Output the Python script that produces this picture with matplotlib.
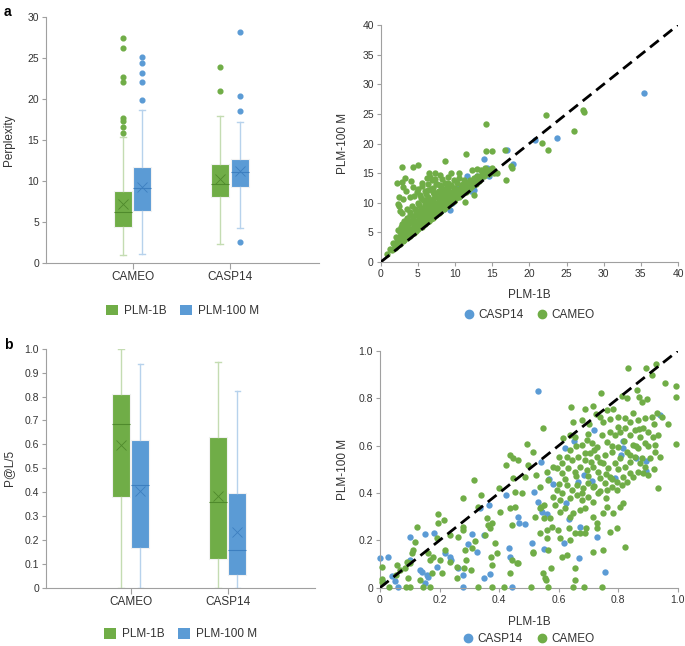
import numpy as np
import matplotlib
matplotlib.use('Agg')
import matplotlib.pyplot as plt
from matplotlib.patches import Patch
from matplotlib.lines import Line2D

plt.rcParams['font.family'] = ['Liberation Sans', 'DejaVu Sans']

GREEN = '#70AD47'
BLUE = '#5B9BD5'
GREEN_LIGHT = '#c4dcb2'
BLUE_LIGHT = '#b7d2ec'
GREEN_DARK = '#4f8a2c'
BLUE_DARK = '#3d7fc0'
SPINE = '#a0a0a0'
TXT = '#333333'

datasets = ['CAMEO', 'CASP14']
models = ['PLM-1B', 'PLM-100 M']

# ---- panel a, box plot of perplexity ----
# order: [CAMEO, CASP14]
ppl_1b = dict(q1=[4.4, 8.0], med=[6.2, 9.6], q3=[8.8, 12.1], mean=[7.2, 10.2],
              whislo=[1.0, 2.35], whishi=[15.3, 17.9])
ppl_100m = dict(q1=[6.35, 9.2], med=[9.1, 11.05], q3=[11.7, 12.65], mean=[9.2, 11.15],
                whislo=[1.1, 4.25], whishi=[18.6, 17.2])
ppl_1b_fliers = [[27.4, 26.2, 22.7, 22.0, 17.6, 17.3, 16.6, 15.8], [23.9, 20.9]]
ppl_100m_fliers = [[25.1, 24.4, 23.1, 22.0, 19.9], [28.1, 20.3, 18.5, 2.55]]

# ---- panel b, box plot of P@L/5 ----
pl5_1b = dict(q1=[0.381, 0.121], med=[0.687, 0.357], q3=[0.812, 0.632], mean=[0.598, 0.385],
              whislo=[0.0, 0.0], whishi=[1.0, 0.944])
pl5_100m = dict(q1=[0.167, 0.054], med=[0.428, 0.159], q3=[0.618, 0.395], mean=[0.403, 0.234],
                whislo=[0.0, 0.0], whishi=[0.934, 0.823])

# ---- panel a, scatter: perplexity PLM-1B (x) vs PLM-100 M (y) ----
casp_ppl = [(35.4, 28.5), (20.7, 20.6), (23.7, 20.9), (17.0, 18.9), (17.8, 16.6),
            (13.9, 17.4), (14.9, 15.6), (14.6, 14.5), (11.6, 14.6), (12.9, 14.5),
            (10.4, 12.7), (12.2, 12.0), (9.3, 8.8), (9.55, 9.9), (8.0, 9.3),
            (10.2, 11.0), (13.5, 14.2), (11.9, 13.0), (12.6, 12.1), (11.0, 11.8),
            (9.0, 10.4), (8.5, 9.0), (10.8, 12.6), (13.2, 13.8), (7.5, 8.5), (14.3, 15.9)]

cameo_ppl = [(27.2, 25.7), (27.3, 25.4), (22.2, 24.8), (26.0, 22.1), (21.7, 20.1),
             (22.5, 18.9), (14.1, 23.3), (16.7, 18.9), (15.0, 18.7), (14.1, 18.7),
             (11.5, 18.3), (8.6, 17.0), (17.5, 16.2), (17.6, 15.9), (15.7, 15.1),
             (16.9, 13.9), (11.3, 10.2), (12.5, 11.3), (2.8, 16.1), (4.3, 16.1),
             (5.0, 16.3), (2.2, 13.4), (3.3, 14.1), (2.8, 13.5), (3.0, 12.6),
             (3.4, 12.0), (4.1, 13.6), (4.3, 12.6), (2.5, 11.0), (3.0, 10.6),
             (2.3, 9.8), (2.4, 9.4), (2.6, 8.6), (2.9, 8.3), (5.0, 12.3),
             (6.5, 15.0), (7.3, 15.0), (6.6, 14.4), (8.0, 14.7), (9.5, 15.1),
             (10.5, 15.0), (6.3, 13.1), (7.0, 12.5), (7.8, 12.0), (8.5, 12.3),
             (9.2, 12.8), (9.8, 13.8), (10.5, 14.1), (11.2, 13.9), (12.3, 15.5),
             (13.0, 15.7), (13.5, 15.6), (14.0, 15.9), (14.5, 15.5), (15.0, 15.8),
             (15.3, 15.0),
             (0.8, 1.4), (1.2, 2.2), (1.6, 3.2), (1.8, 3.0), (2.0, 2.5), (2.2, 3.6),
             (2.4, 4.2), (2.6, 5.0), (2.7, 3.9), (2.8, 6.5), (2.9, 5.6), (3.0, 4.7),
             (3.1, 7.0), (3.2, 4.2), (3.3, 6.0), (3.4, 5.2), (3.5, 7.5), (3.6, 4.6),
             (3.7, 6.4), (3.8, 5.5), (3.9, 8.0), (4.0, 4.8), (4.1, 6.8), (4.2, 9.5),
             (4.3, 5.8), (4.4, 7.4), (4.5, 11.1), (4.6, 6.2), (4.7, 8.6), (4.8, 5.4),
             (4.9, 7.0), (5.0, 10.0), (5.1, 6.3), (5.2, 8.1), (5.3, 11.3), (5.4, 7.1),
             (5.5, 9.2), (5.6, 6.6), (5.7, 10.5), (5.8, 7.8), (5.9, 8.7), (6.0, 12.0),
             (6.1, 7.2), (6.2, 9.6), (6.3, 11.0), (6.4, 8.2), (6.5, 10.2), (6.6, 7.6),
             (6.7, 9.0), (6.8, 12.3), (6.9, 8.4), (7.0, 10.6), (7.1, 9.3), (7.2, 11.5),
             (7.3, 8.7), (7.4, 13.1), (7.5, 10.0), (7.6, 9.1), (7.7, 11.9), (7.8, 8.9),
             (7.9, 10.8), (8.0, 9.6), (8.1, 12.6), (8.2, 10.3), (8.3, 9.2), (8.4, 11.4),
             (8.5, 10.0), (8.6, 13.4), (8.7, 9.9), (8.8, 11.0), (8.9, 10.4), (9.0, 12.1),
             (9.1, 10.0), (9.2, 11.5), (9.3, 10.7), (9.4, 13.0), (9.5, 10.4), (9.6, 11.9),
             (9.7, 11.0), (9.8, 12.5), (9.9, 10.8), (10.0, 11.8), (10.2, 13.4), (10.4, 11.5),
             (10.6, 12.3), (10.8, 13.0), (11.0, 12.0), (11.2, 12.8), (11.4, 13.5),
             (11.6, 12.4), (11.8, 13.3), (12.0, 13.9), (12.2, 12.9), (12.4, 13.6),
             (12.6, 14.2), (12.8, 13.4), (13.0, 14.6), (13.3, 14.0), (13.6, 15.0),
             (13.9, 14.6), (14.2, 15.2), (14.6, 14.9), (15.0, 15.7),
             (2.5, 3.2), (3.0, 3.6), (3.5, 4.0), (4.0, 4.4), (4.5, 5.0), (5.0, 5.5),
             (5.5, 5.9), (6.0, 6.5), (6.5, 7.0), (7.0, 7.4), (7.5, 8.0), (8.0, 8.5),
             (8.5, 8.9), (9.0, 9.5), (9.5, 9.9), (10.0, 10.6), (10.5, 11.0), (11.0, 11.4),
             (11.5, 11.9), (12.0, 12.5), (5.2, 6.2), (6.2, 7.1), (7.2, 8.2), (8.2, 9.1),
             (4.2, 5.2), (3.2, 4.4), (2.2, 2.9), (1.5, 2.0), (9.2, 9.9), (10.2, 10.9),
             (11.3, 12.1), (12.3, 12.9), (13.2, 13.6), (4.6, 9.0), (5.4, 10.8),
             (6.1, 11.4), (5.6, 12.8), (4.9, 11.8), (3.9, 10.9), (6.9, 13.8), (7.6, 13.2),
             (8.3, 14.0), (9.0, 14.4), (6.4, 12.1), (5.2, 9.6), (3.6, 9.0), (4.0, 8.5),
             (2.0, 4.3), (2.3, 5.4), (2.7, 5.9), (2.9, 4.5), (3.3, 5.6), (3.5, 6.3),
             (3.8, 6.9), (4.1, 5.6), (4.4, 6.6), (4.6, 7.9), (4.9, 6.2), (5.1, 7.5),
             (5.3, 8.8), (5.5, 6.9), (5.7, 8.2), (5.9, 9.8), (6.0, 7.6), (6.3, 8.8),
             (6.5, 9.5), (6.7, 8.1), (6.9, 10.1), (7.1, 8.6), (7.3, 9.7), (7.5, 11.0),
             (7.7, 9.4), (7.9, 10.2), (8.1, 11.2), (8.3, 10.6), (8.5, 11.8), (8.7, 10.7),
             (8.9, 12.6), (9.1, 11.1), (9.3, 11.9), (9.6, 11.3), (9.8, 10.3), (10.1, 12.3),
             (10.3, 11.2), (10.7, 11.7), (11.1, 13.1), (11.5, 12.7), (11.9, 12.8),
             (12.7, 13.1), (13.4, 14.4), (14.0, 14.8), (14.8, 15.4), (4.5, 4.9),
             (5.8, 6.4), (6.8, 7.3), (7.8, 8.3), (3.1, 3.7), (1.9, 2.4), (2.6, 3.1),
             (3.7, 4.2), (4.8, 5.2), (5.9, 6.9), (6.9, 7.9), (8.8, 9.3), (9.8, 10.3),
             (10.8, 11.3), (11.8, 12.2), (12.8, 13.2), (5.0, 8.5), (6.0, 10.5),
             (7.0, 11.9), (8.0, 13.0), (9.0, 13.3), (7.3, 14.0), (6.2, 14.2), (5.5, 13.4)]

# ---- panel b, scatter: P@L/5 PLM-1B (x) vs PLM-100 M (y) ----
casp_pl5 = [(0.0, 0.124), (0.026, 0.128), (0.10, 0.215), (0.15, 0.225), (0.18, 0.23),
            (0.01, 0.025), (0.04, 0.05), (0.05, 0.03), (0.06, 0.005), (0.10, 0.117),
            (0.134, 0.075), (0.14, 0.068), (0.157, 0.054), (0.16, 0.046), (0.15, 0.018),
            (0.19, 0.089), (0.22, 0.145), (0.235, 0.131), (0.24, 0.117), (0.263, 0.082),
            (0.278, 0.054), (0.278, 0.004), (0.296, 0.184), (0.31, 0.225), (0.325, 0.152),
            (0.336, 0.335), (0.366, 0.348), (0.35, 0.04), (0.349, 0.221), (0.37, 0.058),
            (0.422, 0.392), (0.434, 0.166), (0.438, 0.131), (0.442, 0.004), (0.465, 0.30),
            (0.467, 0.272), (0.487, 0.268), (0.517, 0.406), (0.51, 0.19), (0.532, 0.363),
            (0.53, 0.831), (0.54, 0.532), (0.543, 0.318), (0.55, 0.162), (0.562, 0.31),
            (0.568, 0.459), (0.582, 0.437), (0.62, 0.59), (0.625, 0.359), (0.617, 0.19),
            (0.634, 0.29), (0.653, 0.62), (0.666, 0.445), (0.672, 0.255), (0.668, 0.124),
            (0.685, 0.478), (0.72, 0.666), (0.711, 0.45), (0.73, 0.215), (0.757, 0.068),
            (0.79, 0.462), (0.815, 0.62), (0.815, 0.59), (0.81, 0.56), (0.86, 0.55),
            (0.895, 0.494), (0.893, 0.535), (0.94, 0.73)]

cameo_pl5 = [(0.833, 0.927), (0.894, 0.927), (0.927, 0.944), (0.913, 0.899), (0.957, 0.866),
             (0.993, 0.852), (0.993, 0.807), (0.742, 0.821), (0.643, 0.762), (0.689, 0.754),
             (0.717, 0.768), (0.727, 0.734), (0.761, 0.751), (0.784, 0.754), (0.812, 0.81),
             (0.829, 0.80), (0.862, 0.835), (0.871, 0.807), (0.879, 0.786), (0.896, 0.796),
             (0.549, 0.673), (0.647, 0.701), (0.677, 0.708), (0.703, 0.692), (0.739, 0.723),
             (0.773, 0.711), (0.801, 0.723), (0.823, 0.715), (0.84, 0.701), (0.868, 0.708),
             (0.89, 0.715), (0.913, 0.723), (0.929, 0.737), (0.949, 0.723), (0.966, 0.692),
             (0.993, 0.607), (0.935, 0.42),
             (0.616, 0.631), (0.638, 0.645), (0.655, 0.638), (0.677, 0.603), (0.694, 0.624),
             (0.711, 0.61), (0.728, 0.596), (0.745, 0.645), (0.761, 0.617), (0.773, 0.659),
             (0.789, 0.645), (0.806, 0.659), (0.823, 0.673), (0.84, 0.645), (0.857, 0.666),
             (0.873, 0.638), (0.885, 0.673), (0.902, 0.659), (0.918, 0.638), (0.935, 0.645),
             (0.924, 0.603), (0.89, 0.61), (0.868, 0.589), (0.851, 0.603), (0.829, 0.575),
             (0.801, 0.596), (0.778, 0.575), (0.756, 0.561), (0.728, 0.554), (0.705, 0.568),
             (0.689, 0.539), (0.666, 0.554), (0.644, 0.539), (0.627, 0.554), (0.61, 0.525),
             (0.594, 0.504), (0.61, 0.483), (0.633, 0.504), (0.655, 0.49), (0.672, 0.511),
             (0.694, 0.497), (0.717, 0.511), (0.733, 0.49), (0.75, 0.525), (0.767, 0.504),
             (0.789, 0.525), (0.806, 0.546), (0.823, 0.511), (0.84, 0.532), (0.857, 0.554),
             (0.873, 0.525), (0.89, 0.511), (0.907, 0.546), (0.924, 0.575), (0.94, 0.554),
             (0.84, 0.483), (0.817, 0.469), (0.795, 0.448), (0.773, 0.469), (0.756, 0.441),
             (0.739, 0.462), (0.717, 0.427), (0.70, 0.441), (0.683, 0.42), (0.661, 0.434),
             (0.644, 0.413), (0.627, 0.434), (0.61, 0.399), (0.594, 0.413), (0.582, 0.385),
             (0.605, 0.37), (0.638, 0.377), (0.661, 0.392), (0.677, 0.37), (0.70, 0.385),
             (0.717, 0.363), (0.733, 0.399), (0.761, 0.413), (0.778, 0.427), (0.795, 0.413),
             (0.812, 0.434), (0.829, 0.448), (0.851, 0.469), (0.868, 0.49), (0.885, 0.483),
             (0.902, 0.476), (0.60, 0.554), (0.582, 0.511), (0.56, 0.49), (0.565, 0.455),
             (0.537, 0.427),
             (0.521, 0.30), (0.537, 0.335), (0.55, 0.349), (0.571, 0.293), (0.588, 0.349),
             (0.605, 0.321), (0.622, 0.335), (0.638, 0.30), (0.65, 0.314), (0.672, 0.328),
             (0.689, 0.335), (0.717, 0.30), (0.728, 0.272), (0.75, 0.314), (0.784, 0.314),
             (0.761, 0.342), (0.806, 0.342), (0.817, 0.356), (0.577, 0.258), (0.599, 0.244),
             (0.636, 0.251), (0.655, 0.23), (0.672, 0.23), (0.692, 0.251), (0.728, 0.251),
             (0.773, 0.237), (0.795, 0.251), (0.537, 0.23), (0.56, 0.208), (0.605, 0.208),
             (0.638, 0.201), (0.689, 0.23), (0.515, 0.152), (0.565, 0.159), (0.61, 0.131),
             (0.627, 0.138), (0.717, 0.152), (0.75, 0.159), (0.823, 0.173),
             (0.549, 0.061), (0.555, 0.039), (0.558, 0.032), (0.565, 0.004), (0.573, 0.082),
             (0.65, 0.004), (0.655, 0.082), (0.655, 0.032), (0.686, 0.004), (0.745, 0.004),
             (0.006, 0.035), (0.008, 0.025), (0.007, 0.089), (0.031, 0.004), (0.054, 0.054),
             (0.056, 0.096), (0.067, 0.075), (0.084, 0.082), (0.09, 0.11), (0.101, 0.103),
             (0.086, 0.004), (0.101, 0.004), (0.095, 0.039), (0.106, 0.145), (0.118, 0.194),
             (0.123, 0.258), (0.112, 0.159), (0.134, 0.032), (0.143, 0.004), (0.168, 0.004),
             (0.162, 0.145), (0.168, 0.117), (0.174, 0.061), (0.179, 0.131), (0.19, 0.208),
             (0.196, 0.31), (0.196, 0.272), (0.215, 0.286), (0.202, 0.117), (0.208, 0.061),
             (0.218, 0.159), (0.235, 0.11), (0.235, 0.223), (0.258, 0.089), (0.263, 0.216),
             (0.258, 0.039), (0.28, 0.258), (0.278, 0.377), (0.28, 0.244), (0.286, 0.159),
             (0.289, 0.117), (0.282, 0.082), (0.306, 0.075), (0.31, 0.166), (0.317, 0.455),
             (0.32, 0.197), (0.328, 0.004), (0.33, 0.342), (0.341, 0.392), (0.353, 0.223),
             (0.358, 0.293), (0.364, 0.265), (0.37, 0.251), (0.375, 0.275), (0.372, 0.131),
             (0.375, 0.096), (0.375, 0.004), (0.386, 0.187), (0.403, 0.321), (0.40, 0.42),
             (0.392, 0.145), (0.418, 0.004), (0.422, 0.518), (0.437, 0.561), (0.437, 0.335),
             (0.442, 0.265), (0.438, 0.061), (0.442, 0.117), (0.448, 0.546), (0.453, 0.342),
             (0.459, 0.103), (0.448, 0.462), (0.453, 0.403), (0.465, 0.103), (0.465, 0.539),
             (0.476, 0.399), (0.487, 0.469), (0.495, 0.606), (0.498, 0.518), (0.507, 0.004),
             (0.515, 0.575), (0.524, 0.476), (0.54, 0.342), (0.551, 0.293), (0.515, 0.145),
             (0.56, 0.244),
             (0.70, 0.65), (0.72, 0.58), (0.74, 0.53), (0.76, 0.48), (0.78, 0.60),
             (0.80, 0.50), (0.82, 0.62), (0.84, 0.56), (0.86, 0.60), (0.88, 0.55),
             (0.90, 0.60), (0.92, 0.50), (0.66, 0.47), (0.68, 0.40), (0.70, 0.47),
             (0.72, 0.43), (0.74, 0.41), (0.76, 0.38), (0.78, 0.46), (0.64, 0.58),
             (0.62, 0.46), (0.60, 0.44), (0.66, 0.60), (0.75, 0.70), (0.85, 0.74),
             (0.87, 0.67), (0.80, 0.68), (0.92, 0.69), (0.71, 0.53), (0.69, 0.57)]


def style_axis(ax):
    for s in ['top', 'right']:
        ax.spines[s].set_visible(False)
    for s in ['left', 'bottom']:
        ax.spines[s].set_color(SPINE)
        ax.spines[s].set_linewidth(0.8)
    ax.tick_params(colors=SPINE, labelcolor=TXT, labelsize=7.5, length=3, width=0.8, pad=2)


def draw_boxes(ax, s1, s2, f1=None, f2=None):
    for k, (st, fl, c, cl, cd, off) in enumerate([(s1, f1, GREEN, GREEN_LIGHT, GREEN_DARK, -0.1),
                                                  (s2, f2, BLUE, BLUE_LIGHT, BLUE_DARK, 0.1)]):
        stats = []
        for i in range(len(datasets)):
            stats.append(dict(q1=st['q1'][i], med=st['med'][i], q3=st['q3'][i],
                              mean=st['mean'][i], whislo=st['whislo'][i],
                              whishi=st['whishi'][i],
                              fliers=fl[i] if fl is not None else []))
        pos = np.arange(1, len(datasets) + 1) + off
        ax.bxp(stats, positions=pos, widths=0.185, patch_artist=True, showmeans=True,
               capwidths=0.06,
               boxprops=dict(facecolor=c, edgecolor='#f2f2f2', linewidth=0.8),
               whiskerprops=dict(color=cl, linewidth=1.0),
               capprops=dict(color=cl, linewidth=1.0),
               medianprops=dict(color=cd, linewidth=0.8),
               meanprops=dict(marker='x', markeredgecolor=cd, markersize=7,
                              markeredgewidth=0.6),
               flierprops=dict(marker='o', markerfacecolor=c, markeredgecolor=c,
                               markersize=3.4))
    ax.set_xticks(np.arange(1, len(datasets) + 1))
    ax.set_xticklabels(datasets, fontsize=8.5)
    ax.tick_params(axis='x', length=4)


def box_legend(ax, y):
    handles = [Patch(facecolor=GREEN, edgecolor='none'), Patch(facecolor=BLUE, edgecolor='none')]
    ax.legend(handles, models, loc='center', bbox_to_anchor=(0.5, y), ncol=2, frameon=False,
              fontsize=8.5, handlelength=1.0, handleheight=1.0, handletextpad=0.5,
              columnspacing=1.2, labelcolor=TXT)


def scatter_legend(ax, y):
    handles = [Line2D([], [], marker='o', ls='none', color=BLUE, markersize=6),
               Line2D([], [], marker='o', ls='none', color=GREEN, markersize=6)]
    ax.legend(handles, ['CASP14', 'CAMEO'], loc='center', bbox_to_anchor=(0.5, y), ncol=2,
              frameon=False, fontsize=8.5, handlelength=0.8, handletextpad=0.4,
              columnspacing=1.2, labelcolor=TXT)


fig = plt.figure(figsize=(6.85, 6.46), dpi=100)

# a, left
ax1 = fig.add_axes([0.0672, 0.5929, 0.3985, 0.3813])
style_axis(ax1)
draw_boxes(ax1, ppl_1b, ppl_100m, ppl_1b_fliers, ppl_100m_fliers)
ax1.set_xlim(0.11, 2.915)
ax1.set_ylim(0, 30)
ax1.set_yticks(range(0, 31, 5))
ax1.set_ylabel('Perplexity', fontsize=8.5, color=TXT)
ax1.yaxis.set_label_coords(-0.115, 0.5)
box_legend(ax1, -0.195)

# a, right
ax2 = fig.add_axes([0.5558, 0.5944, 0.434, 0.3669])
style_axis(ax2)
cx, cy = np.array(casp_ppl).T
gx, gy = np.array(cameo_ppl).T
ax2.scatter(cx, cy, s=21, color=BLUE, linewidths=0, zorder=2)
ax2.scatter(gx, gy, s=21, color=GREEN, linewidths=0, zorder=3)
ax2.plot([0, 40], [0, 40], color='black', ls=(0, (4, 2.2)), lw=2.0, zorder=4)
ax2.set_xlim(0, 40)
ax2.set_ylim(0, 40)
ax2.set_xticks(range(0, 41, 5))
ax2.set_yticks(range(0, 41, 5))
ax2.set_xlabel('PLM-1B', fontsize=8.5, color=TXT)
ax2.set_ylabel('PLM-100 M', fontsize=8.5, color=TXT)
ax2.xaxis.set_label_coords(0.5, -0.115)
ax2.yaxis.set_label_coords(-0.107, 0.5)
scatter_legend(ax2, -0.224)

# b, left
ax3 = fig.add_axes([0.0672, 0.0902, 0.3927, 0.37])
style_axis(ax3)
draw_boxes(ax3, pl5_1b, pl5_100m)
ax3.set_xlim(0.127, 2.9)
ax3.set_ylim(0, 1.0)
yt = np.round(np.arange(0, 1.01, 0.1), 1)
ax3.set_yticks(yt)
ax3.set_yticklabels(['0'] + ['%.1f' % v for v in yt[1:]])
ax3.set_ylabel('P@L/5', fontsize=8.5, color=TXT)
ax3.yaxis.set_label_coords(-0.115, 0.5)
box_legend(ax3, -0.194)

# b, right
ax4 = fig.add_axes([0.5547, 0.0902, 0.4346, 0.3664])
style_axis(ax4)
cx, cy = np.array(casp_pl5).T
gx, gy = np.array(cameo_pl5).T
ax4.scatter(cx, cy, s=21, color=BLUE, linewidths=0, zorder=2, clip_on=False)
ax4.scatter(gx, gy, s=21, color=GREEN, linewidths=0, zorder=3, clip_on=False)
ax4.plot([0, 1], [0, 1], color='black', ls=(0, (4, 2.2)), lw=2.0, zorder=4)
ax4.set_xlim(0, 1)
ax4.set_ylim(0, 1)
t = np.round(np.arange(0, 1.01, 0.2), 1)
ax4.set_xticks(t)
ax4.set_yticks(t)
ax4.set_xticklabels(['0'] + ['%.1f' % v for v in t[1:]])
ax4.set_yticklabels(['0'] + ['%.1f' % v for v in t[1:]])
ax4.set_xlabel('PLM-1B', fontsize=8.5, color=TXT)
ax4.set_ylabel('PLM-100 M', fontsize=8.5, color=TXT)
ax4.xaxis.set_label_coords(0.5, -0.12)
ax4.yaxis.set_label_coords(-0.105, 0.5)
scatter_legend(ax4, -0.217)

fig.text(0.006, 0.992, 'a', fontsize=10, fontweight='bold', va='top', ha='left')
fig.text(0.006, 0.477, 'b', fontsize=10, fontweight='bold', va='top', ha='left')

fig.savefig('out.png', dpi=100)
